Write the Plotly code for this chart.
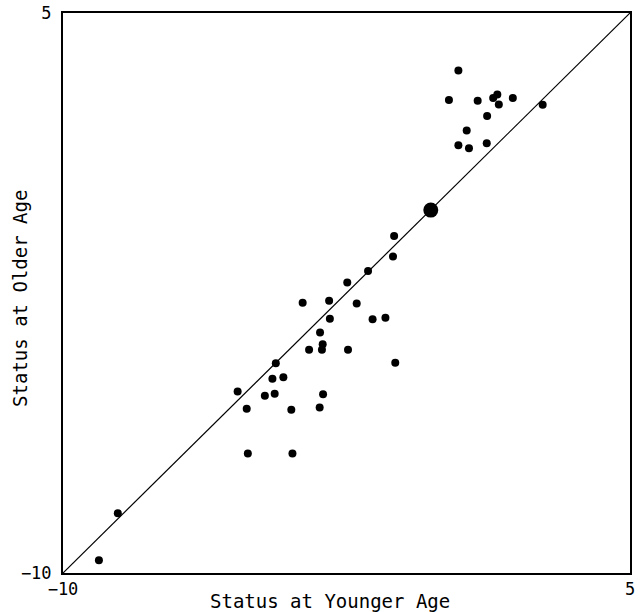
import plotly.graph_objects as go

# Individual observations (status at younger age, status at older age)
younger = [-2.48, -3.66, -2.96, -2.23, -2.94, -1.81, -1.47, -3.20, -3.13, -3.49,
           -3.15, -2.46, -1.21, -4.37, -4.46, -4.17, -5.38, -4.66, -4.40, -3.12,
           -5.14, -3.96, -3.21, -5.11, -3.93, -1.24, -1.27, -1.93,
           0.46, 0.21, 0.97, 1.49, 1.38, 1.53, 1.90, 2.69, 1.22, 0.68, 0.46, 0.74, 1.21,
           -8.55, -9.05]
older = [-2.22, -2.76, -2.71, -2.78, -3.19, -3.20, -3.16, -3.56, -3.87, -4.02,
         -4.02, -4.02, -4.37, -4.38, -4.80, -4.76, -5.14, -5.25, -5.20, -5.21,
         -5.60, -5.63, -5.57, -6.80, -6.80, -0.97, -1.52, -1.91,
         3.46, 2.67, 2.65, 2.82, 2.72, 2.55, 2.72, 2.54, 2.24, 1.85, 1.46, 1.38, 1.51,
         -8.40, -9.66]

# Mean point
mean_x = [-0.27]
mean_y = [-0.28]

# Identity line and axis range
axis_range = [-10, 5]
tick_vals = [-10, 5]
tick_text = ["\u221210", "5"]

x_title = "Status at Younger Age"
y_title = "Status at Older Age"

fig = go.Figure()
fig.add_trace(go.Scatter(x=axis_range, y=axis_range, mode="lines",
                         line=dict(color="black", width=1.2), hoverinfo="skip"))
fig.add_trace(go.Scatter(x=younger, y=older, mode="markers",
                         marker=dict(color="black", size=8)))
fig.add_trace(go.Scatter(x=mean_x, y=mean_y, mode="markers",
                         marker=dict(color="black", size=15)))

axis_common = dict(range=axis_range, tickvals=tick_vals, ticktext=tick_text,
                   showgrid=False, zeroline=False, showline=True, mirror=True,
                   linecolor="black", linewidth=2, ticks="", automargin=False,
                   ticklabeloverflow="allow",
                   tickfont=dict(family="DejaVu Sans Mono", size=17, color="black"))

fig.update_xaxes(**axis_common)
fig.update_yaxes(**axis_common, ticklabelstandoff=6)

title_font = dict(family="DejaVu Sans Mono", size=19, color="black")
fig.add_annotation(text=x_title, xref="paper", yref="paper", x=0.471, y=-0.05,
                   xanchor="center", yanchor="middle", showarrow=False, font=title_font)
fig.add_annotation(text=y_title, xref="paper", yref="paper", x=-0.077, y=0.49,
                   xanchor="center", yanchor="middle", showarrow=False,
                   textangle=-90, font=title_font)

fig.update_layout(width=641, height=612, showlegend=False,
                  plot_bgcolor="white", paper_bgcolor="white",
                  margin=dict(l=63, r=11, t=13, b=39))

fig.write_html("out.html", config={"displayModeBar": False},
               post_script="document.body.style.margin='0';document.body.style.overflow='hidden';")
